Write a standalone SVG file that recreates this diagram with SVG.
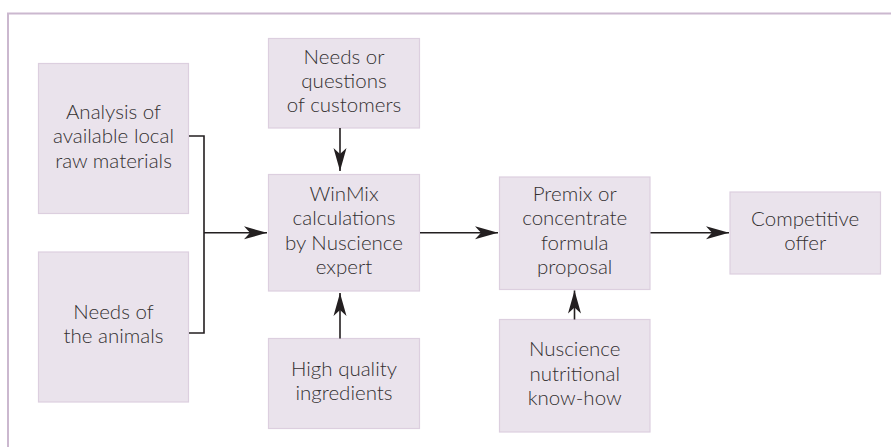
<svg xmlns="http://www.w3.org/2000/svg" width="891" height="447" viewBox="0 0 891 447">
  <style>
    .box { fill: #EAE3EC; stroke: #DCCFDF; stroke-width: 1.2; }
    .lbl { font-family: "Lato", "Open Sans", "Liberation Sans", sans-serif; font-size: 20.5px; font-weight: 300; fill: #333031; text-anchor: middle; }
    .wire { fill: none; stroke: #231F20; stroke-width: 1.6; }
    .frame { fill: none; stroke: #CBB8CF; stroke-width: 2; }
  </style>
  <defs>
    <marker id="head" markerUnits="userSpaceOnUse" markerWidth="26" markerHeight="16" viewBox="-24 -8 26 16" refX="0" refY="0" orient="auto">
      <path d="M0,0 L-23,-6.5 L-17,0 L-23,6.5 Z" fill="#231F20"/>
    </marker>
  </defs>

  <rect width="891" height="447" fill="#FFFFFF"/>
  <!-- frame: top and left rules only -->
  <path class="frame" d="M8,447 V13.5 H891"/>

  <g id="analysis">
    <rect class="box" x="38.5" y="63.5" width="150" height="150"/>
    <text class="lbl" x="113.5" y="119">Analysis of</text>
    <text class="lbl" x="113.5" y="143.4">available local</text>
    <text class="lbl" x="113.5" y="167.8">raw materials</text>
  </g>

  <g id="animals">
    <rect class="box" x="38.5" y="252" width="150" height="150"/>
    <text class="lbl" x="113.5" y="319">Needs of</text>
    <text class="lbl" x="113.5" y="343.4">the animals</text>
  </g>

  <g id="customers">
    <rect class="box" x="268.5" y="38.5" width="151" height="89.5"/>
    <text class="lbl" x="344" y="63.6">Needs or</text>
    <text class="lbl" x="344" y="88">questions</text>
    <text class="lbl" x="344" y="112.4">of customers</text>
  </g>

  <g id="winmix">
    <rect class="box" x="268.5" y="174.5" width="151" height="116.5"/>
    <text class="lbl" x="344" y="201">WinMix</text>
    <text class="lbl" x="344" y="225.4">calculations</text>
    <text class="lbl" x="344" y="249.8">by Nuscience</text>
    <text class="lbl" x="344" y="274.2">expert</text>
  </g>

  <g id="ingredients">
    <rect class="box" x="268.5" y="338.5" width="151" height="90"/>
    <text class="lbl" x="344" y="375.6">High quality</text>
    <text class="lbl" x="344" y="400">ingredients</text>
  </g>

  <g id="premix">
    <rect class="box" x="499.5" y="177" width="150.5" height="112.5"/>
    <text class="lbl" x="574.7" y="201">Premix or</text>
    <text class="lbl" x="574.7" y="225.4">concentrate</text>
    <text class="lbl" x="574.7" y="249.8">formula</text>
    <text class="lbl" x="574.7" y="274.2">proposal</text>
  </g>

  <g id="knowhow">
    <rect class="box" x="499.5" y="319.5" width="150.5" height="112.5"/>
    <text class="lbl" x="574.7" y="356.4">Nuscience</text>
    <text class="lbl" x="574.7" y="380.8">nutritional</text>
    <text class="lbl" x="574.7" y="405.2">know-how</text>
  </g>

  <g id="offer">
    <rect class="box" x="730" y="192" width="150.5" height="82"/>
    <text class="lbl" x="805.2" y="225.6">Competitive</text>
    <text class="lbl" x="805.2" y="250">offer</text>
  </g>

  <g id="connectors">
    <path class="wire" d="M189,136 H204 V333 H189"/>
    <path class="wire" d="M204,232.8 H267" marker-end="url(#head)"/>
    <path class="wire" d="M340,128 V171" marker-end="url(#head)"/>
    <path class="wire" d="M340,338.5 V293" marker-end="url(#head)"/>
    <path class="wire" d="M420,232.8 H498" marker-end="url(#head)"/>
    <path class="wire" d="M574.5,319.5 V290.5" marker-end="url(#head)"/>
    <path class="wire" d="M650.5,232.8 H729" marker-end="url(#head)"/>
  </g>
</svg>
